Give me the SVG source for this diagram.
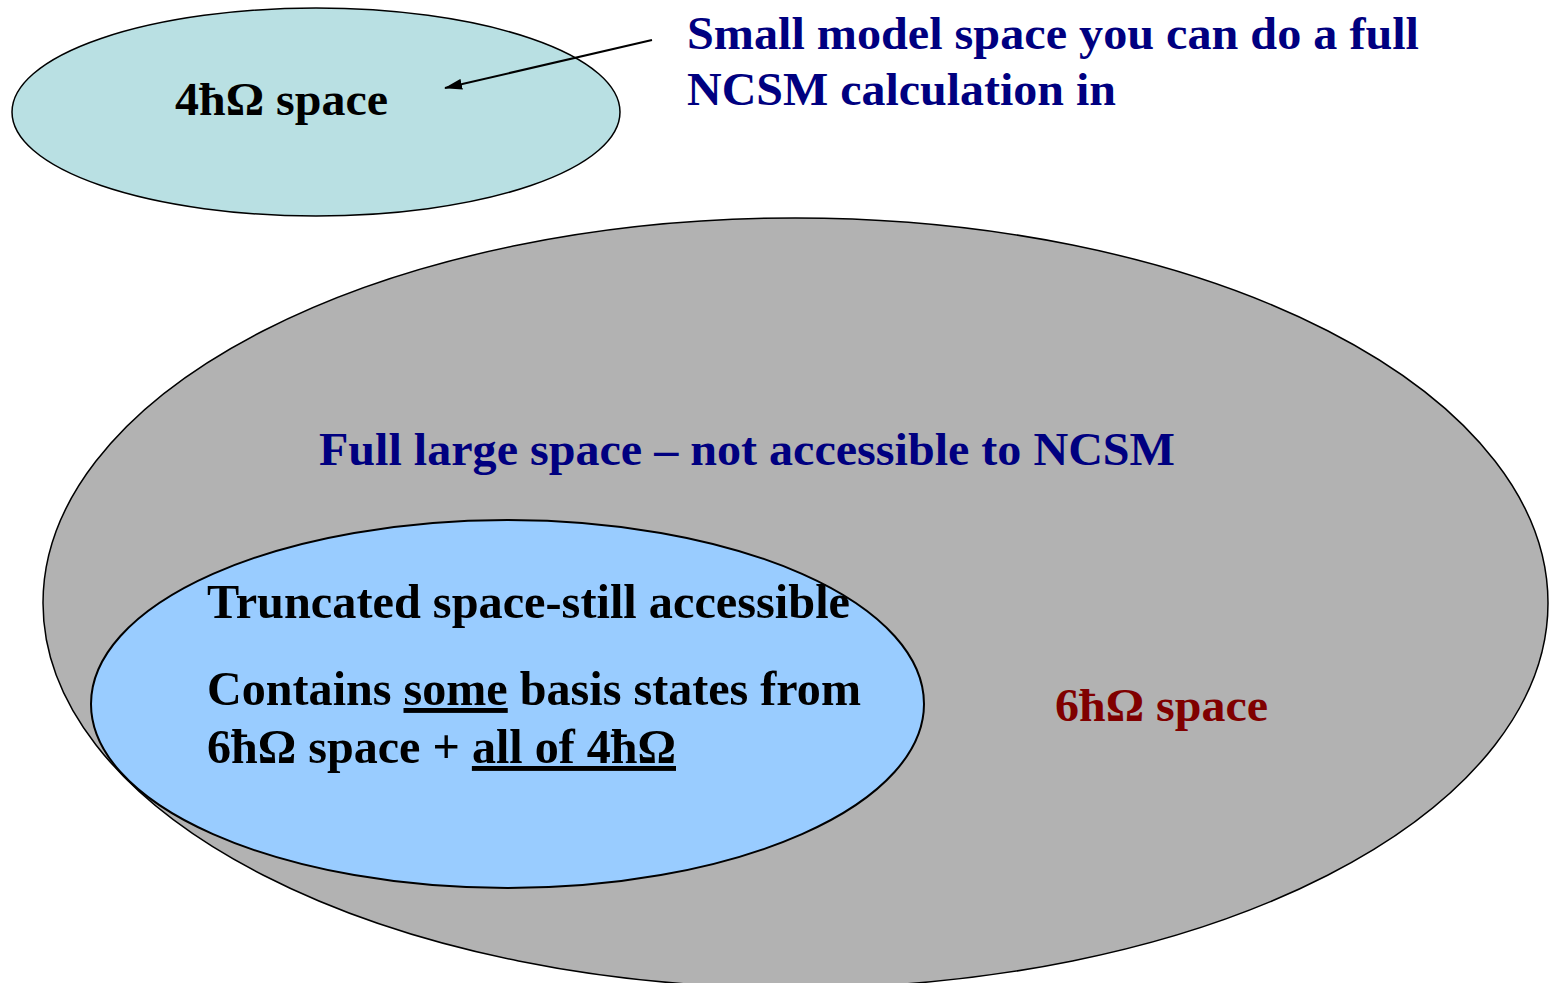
<svg xmlns="http://www.w3.org/2000/svg" width="1555" height="983" viewBox="0 0 1555 983">
<style>
.t{font-family:"Liberation Serif","Times New Roman",serif;font-weight:bold;font-size:47px}
.s{font-size:49px}
.navy{fill:#000080}
.blk{fill:#000000}
.red{fill:#800000}
.u{text-decoration:underline}
</style>
<defs>
<marker id="ah2" viewBox="0 0 20 12" refX="19" refY="6" markerWidth="18" markerHeight="11" markerUnits="userSpaceOnUse" orient="auto">
<path d="M0,0 L20,6 L0,12 z" fill="#000"/>
</marker>
</defs>
<rect width="1555" height="983" fill="#ffffff"/>
<g id="small-space">
<ellipse cx="316" cy="112" rx="304" ry="104" fill="#b9e0e3" stroke="#000" stroke-width="1.5"/>
<text class="t blk" x="175" y="115" textLength="213" lengthAdjust="spacingAndGlyphs">4ħΩ space</text>
</g>
<g id="large-space">
<ellipse cx="795.5" cy="603" rx="752.5" ry="385" fill="#b2b2b2" stroke="#000" stroke-width="1.5"/>
<text class="t navy" x="319" y="465" textLength="856" lengthAdjust="spacingAndGlyphs">Full large space – not accessible to NCSM</text>
<text class="t red" x="1055" y="721" textLength="213" lengthAdjust="spacingAndGlyphs">6ħΩ space</text>
</g>
<g id="truncated-space">
<ellipse cx="507.5" cy="704" rx="416.5" ry="184" fill="#99ccff" stroke="#000" stroke-width="2"/>
<text class="t s blk" x="207" y="618" textLength="643" lengthAdjust="spacingAndGlyphs">Truncated space-still accessible</text>
<text class="t s blk" x="207" y="705" textLength="654" lengthAdjust="spacingAndGlyphs">Contains <tspan class="u">some</tspan> basis states from</text>
<text class="t s blk" x="207" y="763" textLength="469" lengthAdjust="spacingAndGlyphs">6ħΩ space + <tspan class="u">all of 4ħΩ</tspan></text>
</g>
<g id="annotation">
<text class="t navy" x="687" y="49" textLength="732" lengthAdjust="spacingAndGlyphs">Small model space you can do a full</text>
<text class="t navy" x="687" y="105" textLength="429" lengthAdjust="spacingAndGlyphs">NCSM calculation in</text>
</g>
<g id="connectors">
<line x1="652" y1="40" x2="445" y2="88" stroke="#000" stroke-width="2" marker-end="url(#ah2)"/>
</g>
</svg>
